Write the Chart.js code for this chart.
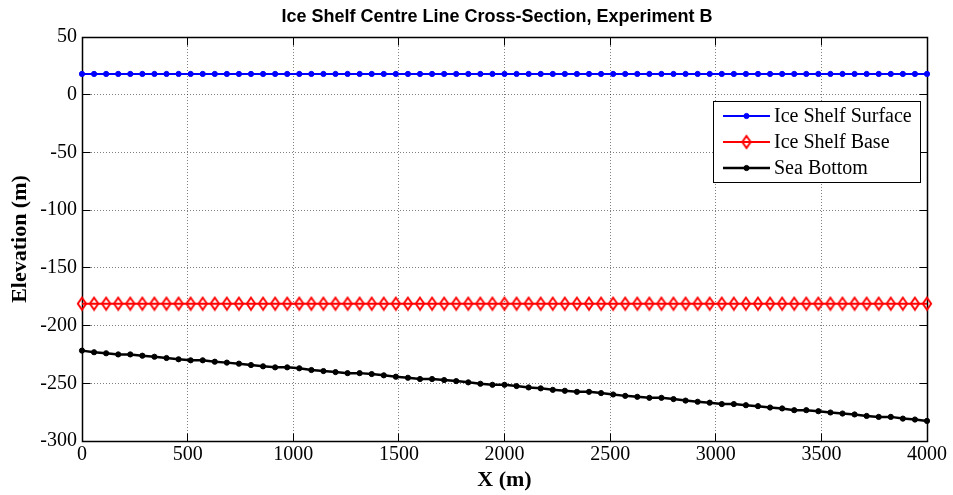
<!DOCTYPE html>
<html><head><meta charset="utf-8">
<script src="https://cdn.jsdelivr.net/npm/chart.js@4/dist/chart.umd.min.js"></script>
<style>html,body{margin:0;padding:0;background:#fff;} canvas{display:block;}</style>
</head><body>
<canvas id="c" width="953" height="495"></canvas>
<script>
const xValues = [0,57.14,114.29,171.43,228.57,285.71,342.86,400,457.14,514.29,571.43,628.57,685.71,742.86,800,857.14,914.29,971.43,1028.57,1085.71,1142.86,1200,1257.14,1314.29,1371.43,1428.57,1485.71,1542.86,1600,1657.14,1714.29,1771.43,1828.57,1885.71,1942.86,2000,2057.14,2114.29,2171.43,2228.57,2285.71,2342.86,2400,2457.14,2514.29,2571.43,2628.57,2685.71,2742.86,2800,2857.14,2914.29,2971.43,3028.57,3085.71,3142.86,3200,3257.14,3314.29,3371.43,3428.57,3485.71,3542.86,3600,3657.14,3714.29,3771.43,3828.57,3885.71,3942.86,4000];
const surface = [18,18,18,18,18,18,18,18,18,18,18,18,18,18,18,18,18,18,18,18,18,18,18,18,18,18,18,18,18,18,18,18,18,18,18,18,18,18,18,18,18,18,18,18,18,18,18,18,18,18,18,18,18,18,18,18,18,18,18,18,18,18,18,18,18,18,18,18,18,18,18];
const base = [-181,-181,-181,-181,-181,-181,-181,-181,-181,-181,-181,-181,-181,-181,-181,-181,-181,-181,-181,-181,-181,-181,-181,-181,-181,-181,-181,-181,-181,-181,-181,-181,-181,-181,-181,-181,-181,-181,-181,-181,-181,-181,-181,-181,-181,-181,-181,-181,-181,-181,-181,-181,-181,-181,-181,-181,-181,-181,-181,-181,-181,-181,-181,-181,-181,-181,-181,-181,-181,-181,-181];
const seaBottom = [-221.7,-223.1,-224.0,-225.0,-225.0,-226.1,-227.0,-228.1,-229.2,-230.1,-230.1,-231.3,-232.1,-233.0,-234.2,-235.3,-236.2,-236.2,-237.0,-238.5,-239.4,-240.3,-241.2,-241.2,-242.0,-243.1,-244.3,-245.2,-246.3,-246.3,-247.2,-248.1,-249.2,-250.4,-251.3,-251.3,-252.4,-253.6,-254.4,-255.7,-256.5,-257.4,-257.4,-258.5,-259.7,-260.9,-261.7,-262.6,-262.6,-263.7,-265.0,-266.0,-266.8,-268.0,-268.0,-269.0,-269.8,-271.0,-271.8,-273.3,-273.3,-274.2,-275.3,-276.2,-277.0,-278.3,-279.1,-279.1,-280.6,-281.4,-282.6];
const xTicks = [0,500,1000,1500,2000,2500,3000,3500,4000];
const yTicks = [-300,-250,-200,-150,-100,-50,0,50];
const seriesLabels = ['Ice Shelf Surface','Ice Shelf Base','Sea Bottom'];
const titleText = 'Ice Shelf Centre Line Cross-Section, Experiment B';
const xTitle = 'X (m)';
const yTitle = 'Elevation (m)';

const SERIF = '"Liberation Serif","Times New Roman",serif';
const SANS = '"Liberation Sans",Arial,sans-serif';

function pts(ys){ return xValues.map((x,i)=>({x:x,y:ys[i]})); }

// Diamond marker (MATLAB style, taller than wide, unfilled)
const diamond = document.createElement('canvas');
diamond.width = 12; diamond.height = 16;
(function(){
  const g = diamond.getContext('2d');
  g.strokeStyle = '#ff0000'; g.lineWidth = 1.9;
  g.beginPath();
  g.moveTo(6, 2); g.lineTo(10.2, 8); g.lineTo(6, 14); g.lineTo(1.8, 8); g.closePath();
  g.stroke();
})();

function al(p){ return Math.round(p - 0.5) + 0.5; }

const titlePlugin = {
  id: 'plotTitle',
  afterDraw(chart){
    const ctx = chart.ctx;
    ctx.save();
    ctx.fillStyle = '#000';
    ctx.font = 'bold 18px ' + SANS;
    ctx.textAlign = 'center'; ctx.textBaseline = 'middle';
    ctx.fillText(titleText, 497, 17);
    ctx.restore();
  }
};

const framePlugin = {
  id: 'frame',
  beforeDatasetsDraw(chart){
    const {ctx, chartArea:a, scales} = chart;
    const L = al(a.left), R = al(a.right), T = al(a.top), B = al(a.bottom);
    ctx.save();
    ctx.strokeStyle = '#000'; ctx.lineWidth = 1.5;
    ctx.beginPath();
    ctx.rect(L, T, R - L, B - T);
    ctx.stroke();
    ctx.lineWidth = 1;
    ctx.beginPath();
    const tl = 8;
    xTicks.forEach(v => {
      const px = al(scales.x.getPixelForValue(v));
      ctx.moveTo(px, B); ctx.lineTo(px, B - tl);
      ctx.moveTo(px, T); ctx.lineTo(px, T + tl);
    });
    yTicks.forEach(v => {
      const py = al(scales.y.getPixelForValue(v));
      ctx.moveTo(L, py); ctx.lineTo(L + tl, py);
      ctx.moveTo(R, py); ctx.lineTo(R - tl, py);
    });
    ctx.stroke();
    ctx.restore();
  }
};

const legendPlugin = {
  id: 'boxLegend',
  afterDatasetsDraw(chart){
    const ctx = chart.ctx;
    const l = 713.5, t = 101.5, r = 920.5, b = 182.5;
    ctx.save();
    ctx.fillStyle = '#fff';
    ctx.fillRect(l, t, r - l, b - t);
    ctx.strokeStyle = '#000'; ctx.lineWidth = 1;
    ctx.strokeRect(l, t, r - l, b - t);
    const rows = [116, 142, 168];
    chart.data.datasets.forEach((ds, i) => {
      const y = rows[i];
      ctx.strokeStyle = ds.borderColor; ctx.lineWidth = ds.borderWidth;
      ctx.beginPath(); ctx.moveTo(723, y); ctx.lineTo(770, y); ctx.stroke();
      ctx.fillStyle = ds.pointBackgroundColor;
      ctx.strokeStyle = ds.pointBorderColor;
      ctx.lineWidth = ds.pointBorderWidth;
      if (Chart.helpers && Chart.helpers.drawPoint) {
        Chart.helpers.drawPoint(ctx, {pointStyle: ds.pointStyle, radius: ds.pointRadius, borderWidth: ds.pointBorderWidth, rotation: 0}, 746.5, y);
      } else if (ds.pointStyle instanceof HTMLCanvasElement) {
        ctx.drawImage(ds.pointStyle, 746.5 - ds.pointStyle.width/2, y - ds.pointStyle.height/2);
      } else {
        ctx.beginPath(); ctx.arc(746.5, y, ds.pointRadius, 0, Math.PI*2); ctx.fill(); ctx.stroke();
      }
      ctx.fillStyle = '#000';
      ctx.font = '20px ' + SERIF;
      ctx.textBaseline = 'middle'; ctx.textAlign = 'left';
      ctx.fillText(ds.label, 774, y + 1);
    });
    ctx.restore();
  }
};

new Chart(document.getElementById('c'), {
  type: 'line',
  data: {
    datasets: [
      {label: seriesLabels[0], data: pts(surface), borderColor: '#0000ff', borderWidth: 2,
       pointStyle: 'circle', pointRadius: 2.6, pointBackgroundColor: '#0000ff', pointBorderColor: '#0000ff', pointBorderWidth: 1,
       tension: 0, clip: false},
      {label: seriesLabels[1], data: pts(base), borderColor: '#ff0000', borderWidth: 2,
       pointStyle: diamond, pointRadius: 6, pointBackgroundColor: 'rgba(0,0,0,0)', pointBorderColor: '#ff0000', pointBorderWidth: 1.9,
       tension: 0, clip: false},
      {label: seriesLabels[2], data: pts(seaBottom), borderColor: '#000000', borderWidth: 2.5,
       pointStyle: 'circle', pointRadius: 2.6, pointBackgroundColor: '#000000', pointBorderColor: '#000000', pointBorderWidth: 1,
       tension: 0, clip: false}
    ]
  },
  options: {
    responsive: false, animation: false, devicePixelRatio: 1,
    layout: {padding: {left: 0, right: 26, top: 37, bottom: 0}},
    plugins: {
      legend: {display: false},
      tooltip: {enabled: false},
      title: {display: false}
    },
    scales: {
      x: {
        type: 'linear', min: 0, max: 4000,
        afterBuildTicks: s => { s.ticks = xTicks.map(v => ({value: v})); },
        afterFit: s => { s.height = 54; },
        grid: {color: 'rgba(0,0,0,0.5)', lineWidth: 1, drawTicks: false, borderDash: [1, 2]},
        border: {display: false, dash: [1, 2]},
        ticks: {color: '#000', font: {family: SERIF, size: 20}, padding: 2, maxRotation: 0, autoSkip: false,
                callback: v => String(v)},
        title: {display: true, text: xTitle, color: '#000', font: {family: SERIF, size: 22, weight: 'bold'},
                padding: {top: 0, bottom: 1}}
      },
      y: {
        type: 'linear', min: -300, max: 50,
        afterBuildTicks: s => { s.ticks = yTicks.map(v => ({value: v})); },
        afterFit: s => { s.width = 82; },
        grid: {color: 'rgba(0,0,0,0.5)', lineWidth: 1, drawTicks: false, borderDash: [1, 2]},
        border: {display: false, dash: [1, 2]},
        ticks: {color: '#000', font: {family: SERIF, size: 20}, padding: 5, autoSkip: false,
                callback: v => String(v)},
        title: {display: true, text: yTitle, color: '#000', font: {family: SERIF, size: 22, weight: 'bold'},
                padding: {top: 7, bottom: 0}}
      }
    }
  },
  plugins: [framePlugin, legendPlugin, titlePlugin]
});
</script>
</body></html>
